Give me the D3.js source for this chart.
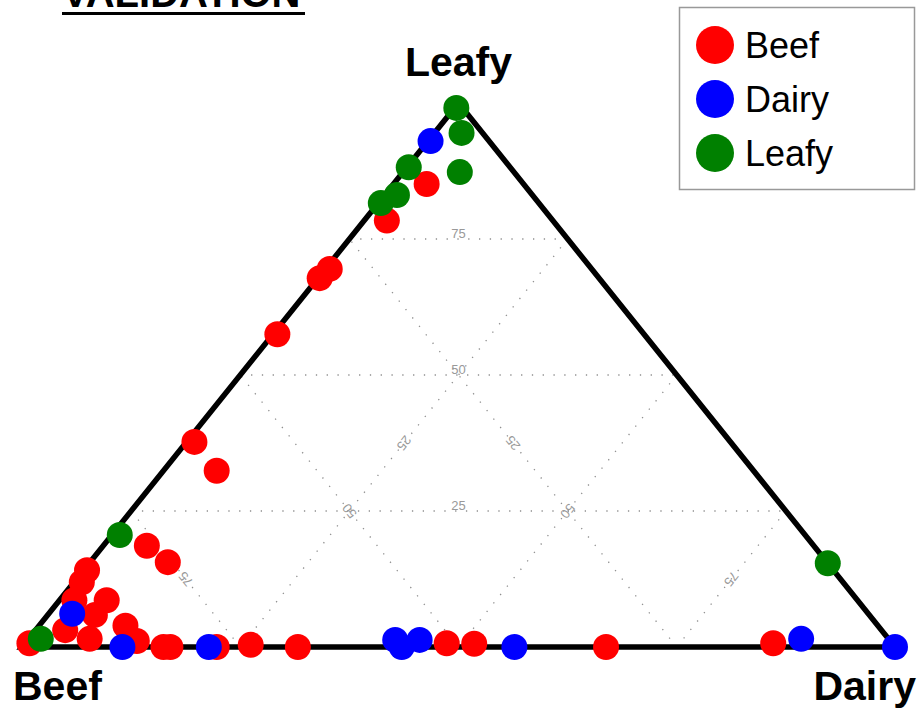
<!DOCTYPE html>
<html>
<head>
<meta charset="utf-8">
<script src="https://cdn.jsdelivr.net/npm/d3@7"></script>
<style>
  html, body { margin: 0; padding: 0; background: #fff; }
  svg { display: block; font-family: "Liberation Sans", Arial, sans-serif; }
</style>
</head>
<body>
<svg id="chart" width="918" height="708"></svg>
<script>
// Data: [Beef %, Dairy %, Leafy %]
const categories = ["Beef", "Dairy", "Leafy"];
const colors = ["#ff0000", "#0000ff", "#008000"];
const gridTicks = [25, 50, 75];

const beefPoints = [
  [11.1, 3.8, 85.1], [19.0, 2.6, 78.3], [30.0, 0.5, 69.5], [32.0, 0.2, 67.8],
  [42.0, 0.5, 57.5], [61.4, 0.9, 37.7], [61.5, 6.1, 32.4], [76.4, 5.0, 18.6],
  [75.5, 8.9, 15.6], [85.5, 0.4, 14.1], [87.2, 0.9, 11.9], [86.0, 5.4, 8.6],
  [89.7, 1.7, 8.6], [88.7, 5.4, 5.9], [93.5, 3.4, 3.1], [98.8, 0.5, 0.7],
  [91.5, 7.0, 1.5], [86.2, 9.9, 3.9], [86.3, 12.6, 1.1], [83.8, 16.2, 0],
  [83.0, 17.0, 0], [77.7, 22.3, 0], [73.6, 26.0, 0.4], [68.4, 31.6, 0],
  [51.0, 48.3, 0.7], [47.9, 51.5, 0.6], [33.1, 66.9, 0], [13.6, 85.7, 0.7]
];
const dairyPoints = [
  [6.7, 0.3, 93.0], [91.2, 2.7, 6.1], [88.5, 11.5, 0], [78.6, 21.4, 0],
  [56.6, 42.1, 1.3], [56.5, 43.5, 0], [53.8, 44.9, 1.3], [43.6, 56.4, 0],
  [10.0, 88.5, 1.5], [0, 100, 0]
];
const leafyPoints = [
  [0.7, 0.2, 99.1], [2.4, 3.1, 94.5], [6.2, 6.5, 87.3], [11.6, 0.2, 88.2],
  [15.5, 1.4, 83.1], [18.1, 0.3, 81.6], [78.5, 0.9, 20.6], [97.1, 1.4, 1.5],
  [0, 84.6, 15.4]
];
const seriesPoints = [beefPoints, dairyPoints, leafyPoints];

const svg = d3.select("#chart");

// Scales: horizontal position from (dairy + leafy/2), vertical from leafy
const xScale = d3.scaleLinear().domain([0, 100]).range([22, 895]);
const yScale = d3.scaleLinear().domain([0, 100]).range([647, 103]);
function proj(p) {
  const s = p[0] + p[1] + p[2];
  const d = p[1] / s * 100, l = p[2] / s * 100;
  return [xScale(d + l / 2), yScale(l)];
}

// Grid lines
const grid = svg.append("g");
const gridLines = [];
gridTicks.forEach(v => {
  gridLines.push({ a: [100 - v, 0, v], b: [0, 100 - v, v], v, rot: 0 });       // Leafy const
  gridLines.push({ a: [v, 100 - v, 0], b: [v, 0, 100 - v], v, rot: null });    // Beef const
  gridLines.push({ a: [0, v, 100 - v], b: [100 - v, v, 0], v, rot: null });    // Dairy const
});
gridLines.forEach(g => {
  const A = proj(g.a), B = proj(g.b);
  grid.append("line")
    .attr("x1", A[0]).attr("y1", A[1]).attr("x2", B[0]).attr("y2", B[1])
    .attr("stroke", "#8f8f8f").attr("stroke-width", 1.3)
    .attr("stroke-dasharray", "1.3,9.5");
  const mx = (A[0] + B[0]) / 2, my = (A[1] + B[1]) / 2;
  const ang = g.rot === 0 ? 0 : Math.atan2(B[1] - A[1], B[0] - A[0]) * 180 / Math.PI;
  grid.append("text")
    .attr("transform", `translate(${mx},${my}) rotate(${ang})`)
    .attr("text-anchor", "middle")
    .attr("dy", g.rot === 0 ? "-1" : "4.5")
    .attr("font-size", 13)
    .attr("fill", "#999")
    .text(g.v);
});

// Triangle
const verts = [[100, 0, 0], [0, 100, 0], [0, 0, 100]].map(proj);
svg.append("path")
  .attr("d", "M" + verts.map(v => v.join(",")).join("L") + "Z")
  .attr("fill", "none").attr("stroke", "#000").attr("stroke-width", 5.5)
  .attr("stroke-linejoin", "miter");

// Points
seriesPoints.forEach((pts, i) => {
  svg.append("g").selectAll("circle").data(pts).join("circle")
    .attr("cx", p => proj(p)[0]).attr("cy", p => proj(p)[1])
    .attr("r", 13).attr("fill", colors[i]);
});

// Vertex labels
svg.append("text").attr("x", verts[2][0]).attr("y", 76).attr("text-anchor", "middle")
  .attr("font-size", 41).attr("font-weight", "bold").text(categories[2]);
svg.append("text").attr("x", 13).attr("y", 700).attr("text-anchor", "start")
  .attr("font-size", 41).attr("font-weight", "bold").text(categories[0]);
svg.append("text").attr("x", 916).attr("y", 700).attr("text-anchor", "end")
  .attr("font-size", 41).attr("font-weight", "bold").text(categories[1]);

// Title (cut off at top, as in the reference)
svg.append("text").attr("x", 62).attr("y", 7)
  .attr("font-size", 40).attr("font-weight", "bold").text("VALIDATION");
svg.append("line").attr("x1", 62).attr("x2", 305).attr("y1", 13.5).attr("y2", 13.5)
  .attr("stroke", "#000").attr("stroke-width", 3);

// Legend
const lg = svg.append("g");
lg.append("rect").attr("x", 679.5).attr("y", 7.5).attr("width", 235).attr("height", 182)
  .attr("fill", "#fff").attr("stroke", "#999").attr("stroke-width", 1.5);
categories.forEach((c, i) => {
  const y = 45 + i * 54;
  lg.append("circle").attr("cx", 715).attr("cy", y).attr("r", 19).attr("fill", colors[i]);
  lg.append("text").attr("x", 745).attr("y", y + 12.5).attr("font-size", 36).text(c);
});
</script>
</body>
</html>
